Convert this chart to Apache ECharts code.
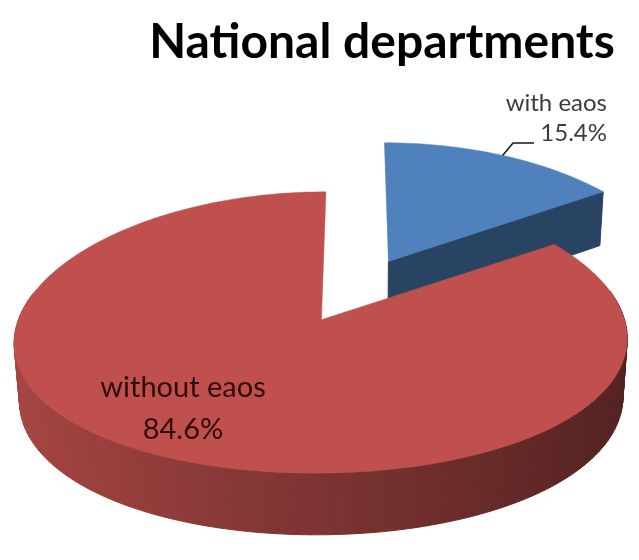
<!DOCTYPE html>
<html>
<head>
<meta charset="utf-8">
<script src="https://cdn.jsdelivr.net/npm/echarts@6/dist/echarts.min.js"></script>
<style>
  html, body { margin: 0; padding: 0; background: #ffffff; }
  #chart { width: 639px; height: 560px; }
</style>
</head>
<body>
<div id="chart"></div>
<script>
// Share of national departments with and without an EAOS
const categories = ['with eaos', 'without eaos'];
const shares = [15.4, 84.6];
const faceColors = ['#4F81BD', '#C0504D'];

// Camera for the tilted, exploded disc (unit radius).
// Horizontal and vertical foreshortening use separate distances.
const VIEW = {
  tilt: 26.2 * Math.PI / 180,
  distX: 6.2,
  focalX: 1820,
  distY: 10.04,
  focalY: 3050,
  cx: 356,
  cy: 290,
  thickness: 0.21,
  explode: 0.245
};

// Label placement in pixels
const LABELS = [
  { x: 607, y: 118, align: 'right', size: 24, lineHeight: 30, color: '#3c3c3c',
    leader: [[513, 143], [534, 143]] },
  { x: 183, y: 409, align: 'center', size: 29, lineHeight: 42, color: '#2e0c0c',
    leader: null }
];

const total = shares.reduce((a, b) => a + b, 0);
const startShares = [];
shares.reduce((acc, v) => { startShares.push(acc); return acc + v; }, 0);

function project(x, y, zb) {
  const s = Math.sin(VIEW.tilt), c = Math.cos(VIEW.tilt);
  const depth = -y * s + zb * c;
  const up = y * c + zb * s;
  const dx = VIEW.distX + depth;
  const dy = VIEW.distY + depth;
  return [VIEW.cx + VIEW.focalX * x / dx, VIEW.cy - VIEW.focalY * up / dy, depth];
}

function hexToRgb(hex) {
  const n = parseInt(hex.slice(1), 16);
  return [(n >> 16) & 255, (n >> 8) & 255, n & 255];
}

// Side walls get darker as they turn towards the right
function shade(hex, normalAngle) {
  const b = Math.min(1, 0.65 - 0.23 * Math.sin(normalAngle));
  const rgb = hexToRgb(hex).map(v => Math.round(v * b));
  return 'rgb(' + rgb.join(',') + ')';
}

// A wall is drawn only when its outward normal points towards the viewer
const facesViewer = normalAngle => Math.cos(normalAngle) < 0.2;

function renderItem(params, api) {
  const i = params.dataIndex;
  const value = api.value(1);
  const a0 = startShares[i] / total * Math.PI * 2;
  const a1 = a0 + value / total * Math.PI * 2;
  const mid = (a0 + a1) / 2;
  const ox = VIEW.explode * Math.sin(mid);
  const oz = VIEW.explode * Math.cos(mid);
  const h = VIEW.thickness;
  const base = faceColors[i];

  const rim = (t, y) => project(ox + Math.sin(t), y, oz + Math.cos(t));
  const hub = y => project(ox, y, oz);

  const walls = [];
  const steps = Math.max(8, Math.ceil((a1 - a0) / (Math.PI / 120)));
  for (let k = 0; k < steps; k++) {
    const t0 = a0 + (a1 - a0) * k / steps;
    const t1 = a0 + (a1 - a0) * (k + 1) / steps;
    const tm = (t0 + t1) / 2;
    if (!facesViewer(tm)) continue;
    const pts = [rim(t0, 0), rim(t1, 0), rim(t1, -h), rim(t0, -h)];
    walls.push({ pts, color: shade(base, tm) });
  }
  const n0 = a0 - Math.PI / 2, n1 = a1 + Math.PI / 2;
  if (Math.cos(n0) < -0.05) {
    walls.push({ pts: [hub(0), rim(a0, 0), rim(a0, -h), hub(-h)], color: shade(base, n0) });
  }
  if (Math.cos(n1) < -0.05) {
    walls.push({ pts: [hub(0), rim(a1, 0), rim(a1, -h), hub(-h)], color: shade(base, n1) });
  }
  walls.forEach(w => { w.depth = w.pts.reduce((s, p) => s + p[2], 0) / w.pts.length; });
  walls.sort((p, q) => q.depth - p.depth);

  const children = walls.map(w => ({
    type: 'polygon',
    shape: { points: w.pts.map(p => [p[0], p[1]]) },
    style: { fill: w.color, stroke: w.color, lineWidth: 1 }
  }));

  const top = [hub(0)];
  const n = Math.max(16, Math.ceil((a1 - a0) / (Math.PI / 180)));
  for (let k = 0; k <= n; k++) top.push(rim(a0 + (a1 - a0) * k / n, 0));
  children.push({
    type: 'polygon',
    shape: { points: top.map(p => [p[0], p[1]]) },
    style: { fill: base, stroke: base, lineWidth: 0.5 }
  });

  const lab = LABELS[i];
  if (lab.leader) {
    const anchor = rim(mid, 0);
    const pts = [[anchor[0], anchor[1]]].concat(lab.leader);
    children.push({
      type: 'polyline',
      shape: { points: pts },
      style: { stroke: '#1a1a1a', lineWidth: 1.6, fill: null }
    });
  }
  children.push({
    type: 'text',
    x: lab.x,
    y: lab.y,
    style: {
      text: categories[i] + '\n' + value.toFixed(1) + '%',
      fill: lab.color,
      font: lab.size + 'px Lato, "Open Sans", sans-serif',
      lineHeight: lab.lineHeight,
      align: lab.align,
      verticalAlign: 'middle'
    }
  });

  return { type: 'group', children };
}

const chart = echarts.init(document.getElementById('chart'), null, { renderer: 'canvas' });
chart.setOption({
  backgroundColor: '#ffffff',
  animation: false,
  title: {
    text: 'National departments',
    left: 377,
    top: 14,
    textAlign: 'center',
    textStyle: {
      fontFamily: 'Lato, "Open Sans", sans-serif',
      fontWeight: 'bold',
      fontSize: 48,
      color: '#000000'
    }
  },
  series: [{
    type: 'custom',
    coordinateSystem: 'none',
    renderItem: renderItem,
    data: categories.map((c, i) => ({ name: c, value: [i, shares[i]] }))
  }]
});
</script>
</body>
</html>
